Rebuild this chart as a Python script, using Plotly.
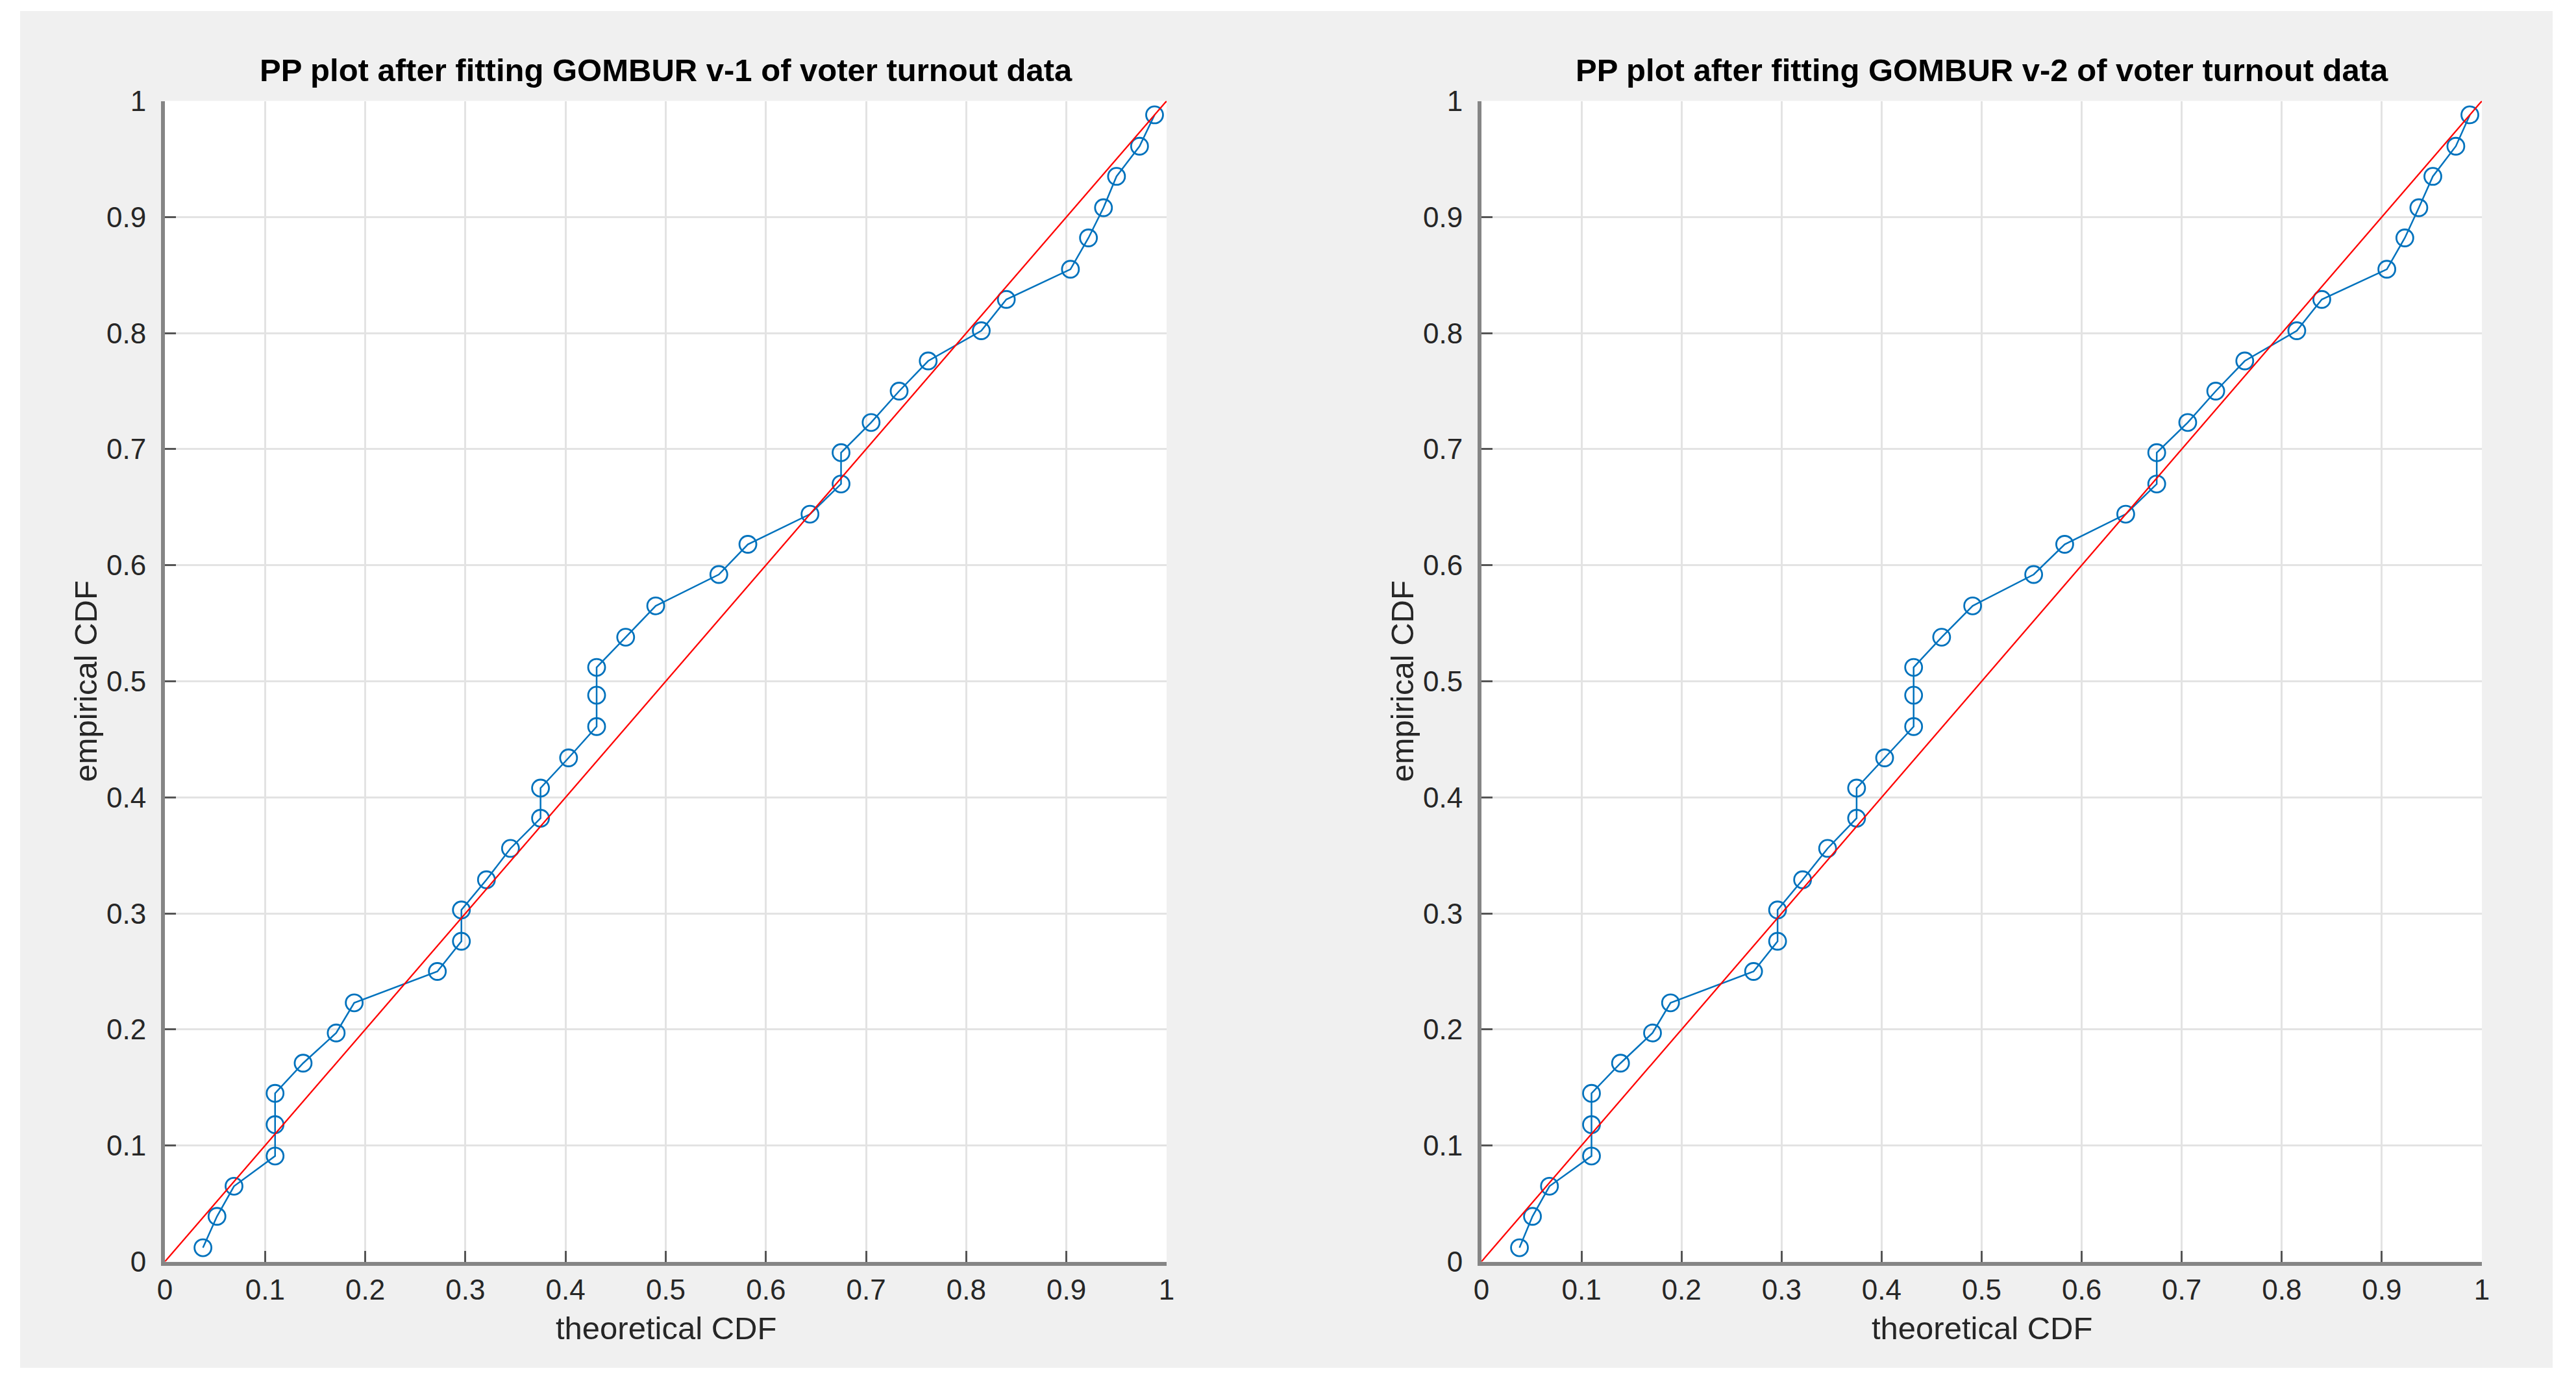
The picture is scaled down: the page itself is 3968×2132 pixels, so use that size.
import plotly.graph_objects as go

# ---- data ----
empirical_cdf = [0.012, 0.039, 0.065, 0.091, 0.118, 0.145, 0.171, 0.197, 0.223, 0.250,
                 0.276, 0.303, 0.329, 0.356, 0.382, 0.408, 0.434, 0.461, 0.488, 0.512,
                 0.538, 0.565, 0.592, 0.618, 0.644, 0.670, 0.697, 0.723, 0.750, 0.776,
                 0.802, 0.829, 0.855, 0.882, 0.908, 0.935, 0.961, 0.988]

theoretical_v1 = [0.038, 0.052, 0.069, 0.110, 0.110, 0.110, 0.138, 0.171, 0.189, 0.272,
                  0.296, 0.296, 0.321, 0.345, 0.375, 0.375, 0.403, 0.431, 0.431, 0.431,
                  0.460, 0.490, 0.553, 0.582, 0.644, 0.675, 0.675, 0.705, 0.733, 0.762,
                  0.815, 0.840, 0.904, 0.922, 0.937, 0.950, 0.973, 0.988]

theoretical_v2 = [0.038, 0.051, 0.068, 0.110, 0.110, 0.110, 0.139, 0.171, 0.189, 0.272,
                  0.296, 0.296, 0.321, 0.346, 0.375, 0.375, 0.403, 0.432, 0.432, 0.432,
                  0.460, 0.491, 0.552, 0.583, 0.644, 0.675, 0.675, 0.706, 0.734, 0.763,
                  0.815, 0.840, 0.905, 0.923, 0.937, 0.951, 0.974, 0.988]

reference_line = [0, 1]

tick_vals = [0, 0.1, 0.2, 0.3, 0.4, 0.5, 0.6, 0.7, 0.8, 0.9, 1]
tick_text = ["0", "0.1", "0.2", "0.3", "0.4", "0.5", "0.6", "0.7", "0.8", "0.9", "1"]

titles = ["PP plot after fitting GOMBUR v-1 of voter turnout data",
          "PP plot after fitting GOMBUR v-2 of voter turnout data"]
x_label = "theoretical CDF"
y_label = "empirical CDF"

# ---- styling ----
W, H = 3968, 2132
FONT = "Liberation Sans, Arial, Helvetica, sans-serif"
BLUE = "#0072BD"
RED = "#FF0000"
TXT = "#262626"

fig = go.Figure()

series = [theoretical_v1, theoretical_v2]
for i, xs in enumerate(series):
    ax = "" if i == 0 else "2"
    fig.add_trace(go.Scatter(
        x=xs, y=empirical_cdf, mode="lines+markers",
        line=dict(color=BLUE, width=2.5),
        marker=dict(symbol="circle-open", size=26, color=BLUE, line=dict(width=2.8, color=BLUE)),
        xaxis="x" + ax, yaxis="y" + ax, showlegend=False, hoverinfo="skip"))
    fig.add_trace(go.Scatter(
        x=reference_line, y=reference_line, mode="lines",
        line=dict(color=RED, width=2.3),
        xaxis="x" + ax, yaxis="y" + ax, showlegend=False, hoverinfo="skip"))

x_domains = [[254 / W, 1797 / W], [2282 / W, 3823 / W]]
y_domain = [(H - 1943.5) / H, (H - 155.5) / H]

axis_common = dict(
    range=[0, 1], tickmode="array", tickvals=tick_vals, ticktext=tick_text,
    showgrid=True, gridcolor="#e3e3e3", gridwidth=3,
    zeroline=False, showline=True, linecolor="#858585", linewidth=6,
    ticks="inside", ticklen=17, tickwidth=3, tickcolor="#555555",
    tickfont=dict(family=FONT, size=44, color=TXT),
    mirror=False, fixedrange=True, automargin=False,
)

layout = dict(
    template="none",
    width=W, height=H, autosize=False,
    margin=dict(l=0, r=0, t=0, b=0, pad=0, autoexpand=False),
    paper_bgcolor="white", plot_bgcolor="white",
    font=dict(family=FONT, color=TXT),
    showlegend=False,
)
for i in range(2):
    ax = "" if i == 0 else "2"
    layout["xaxis" + ax] = dict(axis_common, domain=x_domains[i], anchor="y" + ax,
                               ticklabelstandoff=0)
    layout["yaxis" + ax] = dict(axis_common, domain=y_domain, anchor="x" + ax,
                               ticklabelstandoff=14)

fig.update_layout(**layout)

# gray figure background, then white axes backgrounds on top of it
fig.add_shape(type="rect", xref="paper", yref="paper",
              x0=31 / W, x1=3932 / W, y0=(H - 2107) / H, y1=(H - 17) / H,
              fillcolor="#f0f0f0", line=dict(width=0), layer="below")
for i in range(2):
    ax = "" if i == 0 else "2"
    fig.add_shape(type="rect", xref="x" + ax + " domain", yref="y" + ax + " domain",
                  x0=0, x1=1, y0=0, y1=1, fillcolor="white", line=dict(width=0),
                  layer="below")

annotations = []
for i in range(2):
    cx = (x_domains[i][0] + x_domains[i][1]) / 2
    annotations.append(dict(text="<b>" + titles[i] + "</b>", x=cx, y=1 - 108 / H,
                            xref="paper", yref="paper", xanchor="center", yanchor="middle",
                            showarrow=False, font=dict(family=FONT, size=49, color="black")))
    annotations.append(dict(text=x_label, x=cx, y=1 - 2046 / H,
                            xref="paper", yref="paper", xanchor="center", yanchor="middle",
                            showarrow=False, font=dict(family=FONT, size=49, color=TXT)))
    annotations.append(dict(text=y_label, x=(x_domains[i][0] * W - 123) / W,
                            y=(y_domain[0] + y_domain[1]) / 2,
                            xref="paper", yref="paper", xanchor="center", yanchor="middle",
                            textangle=-90, showarrow=False,
                            font=dict(family=FONT, size=49, color=TXT)))
fig.update_layout(annotations=annotations)

fig.write_html("out.html", config={"displayModeBar": False, "responsive": False},
               post_script="document.body.style.margin='0';document.body.style.overflow='hidden';")
